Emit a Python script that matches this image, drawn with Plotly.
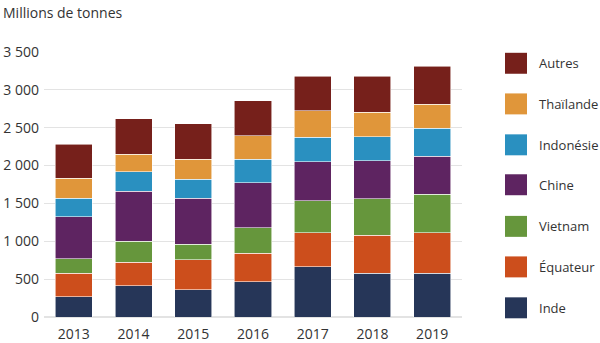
import plotly.graph_objects as go

years = ["2013", "2014", "2015", "2016", "2017", "2018", "2019"]

inde = [266, 414, 362, 463, 664, 581, 581]
equateur = [315, 307, 395, 382, 448, 501, 531]
vietnam = [189, 277, 201, 333, 421, 477, 509]
chine = [556, 662, 610, 592, 517, 504, 504]
indonesie = [242, 258, 250, 312, 321, 321, 368]
thailande = [264, 233, 268, 315, 355, 320, 316]
autres = [447, 470, 469, 461, 456, 478, 504]

series_names = ["Inde", "Équateur", "Vietnam", "Chine", "Indonésie", "Thaïlande", "Autres"]
series_values = [inde, equateur, vietnam, chine, indonesie, thailande, autres]
series_colors = ["#263658", "#CC4E1C", "#66963C", "#5E2461", "#2A90C0", "#E0963A", "#76201B"]

y_ticks = [0, 500, 1000, 1500, 2000, 2500, 3000, 3500]
y_ticktext = ["0", "500", "1 000", "1 500", "2 000", "2 500", "3 000", "3 500"]

FONT = "Open Sans"
TXT = "#333333"

fig = go.Figure()
for name, vals, col in zip(series_names, series_values, series_colors):
    fig.add_trace(go.Bar(
        x=years, y=vals, name=name,
        marker=dict(color=col, line=dict(color="rgba(255,255,255,0.7)", width=0.8)),
        showlegend=False,
    ))

# plot area geometry in pixels
W, H = 600, 343
L, R, T, B = 44, 138, 52, 25.5
pw = W - L - R
ph = H - T - B

shapes = []
annotations = []
legend_centers = [308.3, 267.3, 226.7, 185, 145, 104, 63.3]
for name, col, cy in zip(series_names, series_colors, legend_centers):
    x0 = (505 - L) / pw
    x1 = (527 - L) / pw
    y0 = (H - B - (cy + 10.5)) / ph
    y1 = (H - B - (cy - 10.5)) / ph
    shapes.append(dict(type="rect", xref="paper", yref="paper", x0=x0, x1=x1, y0=y0, y1=y1,
                       fillcolor=col, line=dict(width=0)))
    annotations.append(dict(xref="paper", yref="paper", x=(537 - L) / pw, y=(H - B - cy) / ph,
                            text=name, showarrow=False, xanchor="left", yanchor="middle",
                            font=dict(family=FONT, size=13, color=TXT)))

fig.update_layout(
    width=W, height=H,
    margin=dict(l=L, r=R, t=T, b=B),
    barmode="stack",
    bargap=0.38,
    plot_bgcolor="white",
    paper_bgcolor="white",
    font=dict(family=FONT, size=14, color=TXT),
    title=dict(text="Millions de tonnes", x=3 / W, xanchor="left", xref="container",
               y=1 - 13 / H, yanchor="middle", yref="container",
               font=dict(family=FONT, size=14, color=TXT)),
    xaxis=dict(showgrid=False, showline=False, ticks="", tickfont=dict(size=14, color=TXT),
               ticklabelstandoff=7, automargin=False),
    yaxis=dict(range=[0, 3500], tickvals=y_ticks, ticktext=y_ticktext, showgrid=True,
               gridcolor="#e3e3e3", gridwidth=1, zeroline=True, zerolinecolor="#e3e3e3",
               ticks="", tickfont=dict(size=14, color=TXT), ticklabelstandoff=4,
               automargin=False),
    shapes=shapes,
    annotations=annotations,
)

fig.write_html("out.html")
